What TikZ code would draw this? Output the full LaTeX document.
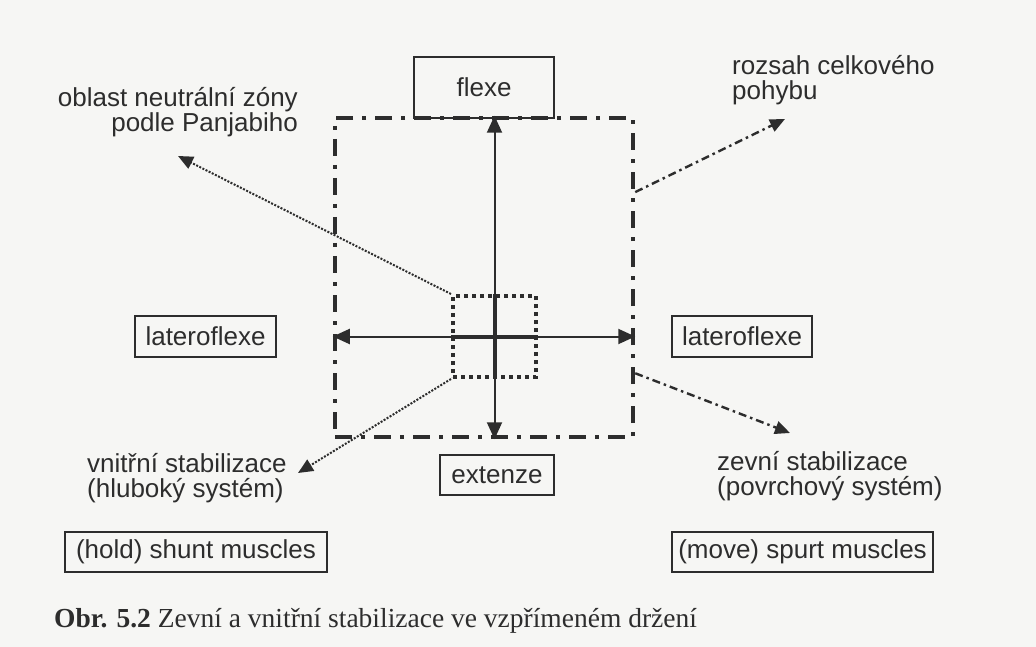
\documentclass[tikz,border=0pt]{standalone}
\usepackage{fontspec}
\setmainfont{Liberation Sans}
\newfontfamily\capfont{Liberation Serif}
\usetikzlibrary{arrows.meta,calc}
\definecolor{ink}{RGB}{45,45,45}
\definecolor{paper}{RGB}{246,246,244}
\begin{document}
\begin{tikzpicture}[x=1pt,y=-1pt,
  txt/.style={font=\fontsize{26}{25}\selectfont, text=ink, inner sep=0pt},
  boxed/.style={txt, draw=ink, line width=1.5pt},
  rangebox/.style={draw=ink, line width=4.5pt, dash pattern=on 17pt off 9pt on 4pt off 9pt, inner sep=0pt},
  corebox/.style={draw=ink, line width=4pt, dash pattern=on 4pt off 4pt, inner sep=0pt},
  axis/.style={draw=ink, line width=2pt, {Triangle[length=17pt,width=15pt]}-{Triangle[length=17pt,width=15pt]}},
  inner/.style={draw=ink, line width=2pt, dash pattern=on 2pt off 1.5pt, -{Triangle[length=15pt,width=13pt]}},
  outer/.style={draw=ink, line width=2.4pt, dash pattern=on 8pt off 4pt on 2.5pt off 4pt, -{Triangle[length=15pt,width=13pt]}}
]
\useasboundingbox[fill=paper] (0,0) rectangle (1036,647);

% boxed direction labels
\node[boxed, minimum width=140pt, minimum height=61pt] (flexe) at (484,87.5) {flexe};
\node[boxed, minimum width=141pt, minimum height=41pt] (latL) at (205.5,336.5) {lateroflexe};
\node[boxed, minimum width=140pt, minimum height=41pt] (latR) at (742,336.5) {lateroflexe};
\node[boxed, minimum width=114pt, minimum height=40pt] (ext) at (497,475) {extenze};
\node[boxed, minimum width=262pt, minimum height=40pt] (hold) at (196,552) {(hold) shunt muscles};
\node[boxed, minimum width=261pt, minimum height=40pt] (move) at (802.5,552) {(move) spurt muscles};

% range of total motion and neutral zone
\node[rangebox, minimum width=298pt, minimum height=319pt] (range) at (484,277.5) {};
\node[corebox, minimum width=83pt, minimum height=81pt] (core) at (494.5,336.5) {};

% motion axes
\draw[axis] (core.center |- range.north) -- (core.center |- range.south);
\draw[axis] (range.west |- core.center) -- (range.east |- core.center);
\draw[ink, line width=4pt] (core.west) -- (core.east);
\draw[ink, line width=4pt] (core.north) -- (core.south);

% free ends of the pointers
\coordinate (t1) at (178,156);
\coordinate (t2) at (298,473);
\coordinate (t3) at (785,119);
\coordinate (t4) at (790,433);
\coordinate (r1) at ($(range.north east)!0.236!(range.south east)$);
\coordinate (r2) at ($(range.north east)!0.796!(range.south east)$);

\draw[inner] (core.north west) -- (t1);
\draw[inner] (core.south west) -- (t2);
\draw[outer] (r1) -- (t3);
\draw[outer] (r2) -- (t4);

% captions of the pointers (base = baseline of the last line)
\node[txt, anchor=base east, align=right] (neutral) at (298,132) {oblast neutrální zóny\\podle Panjabiho};
\node[txt, anchor=base west, align=left] (total) at (732,100) {rozsah celkového\\pohybu};
\node[txt, anchor=base west, align=left] (deep) at (87,497) {vnitřní stabilizace\\(hluboký systém)};
\node[txt, anchor=base west, align=left] (surf) at (717,495) {zevní stabilizace\\(povrchový systém)};

% figure caption
\node[anchor=base west, inner sep=0pt, text=ink, font=\capfont\fontsize{27.5}{30}\selectfont] (fig) at (54,627)
  {\textbf{Obr. 5.2} Zevní a vnitřní stabilizace ve vzpřímeném držení};
\end{tikzpicture}
\end{document}
